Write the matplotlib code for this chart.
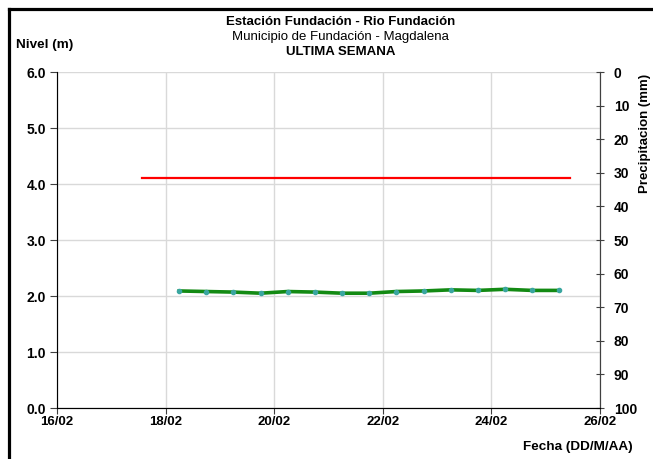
import matplotlib
matplotlib.use('Agg')
import matplotlib.pyplot as plt
import numpy as np
from datetime import datetime, timedelta

plt.rcParams['font.family'] = ['Liberation Sans', 'DejaVu Sans']

# datos - nivel del rio cada 12 horas
t0 = datetime(2024, 2, 18, 6, 0)
fechas = [t0 + timedelta(hours=12 * i) for i in range(15)]
nivel = [2.09, 2.08, 2.07, 2.05, 2.08, 2.07, 2.05, 2.05, 2.08, 2.09,
         2.11, 2.10, 2.12, 2.10, 2.10]

# umbral (linea roja)
umbral_fechas = [datetime(2024, 2, 17, 13, 30), datetime(2024, 2, 25, 10, 50)]
umbral_nivel = [4.1, 4.1]

x_ticks = [datetime(2024, 2, d) for d in range(16, 27, 2)]
x_labels = ['16/02', '18/02', '20/02', '22/02', '24/02', '26/02']

fig = plt.figure(figsize=(6.53, 4.59), dpi=100)
ax = fig.add_axes([0.0873, 0.1111, 0.8315, 0.7320])

ax.plot(umbral_fechas, umbral_nivel, color='#ff0000', lw=1.6, zorder=3)
ax.plot(fechas, nivel, color='#138a13', lw=2.6, zorder=4)
ax.plot(fechas, nivel, ls='none', marker='o', ms=3, color='#3aa6a0', zorder=5)

ax.set_xlim(datetime(2024, 2, 16), datetime(2024, 2, 26))
ax.set_ylim(0, 6)
ax.set_xticks(x_ticks)
ax.set_xticklabels(x_labels)
ax.set_yticks(np.arange(0, 6.1, 1.0))
ax.set_yticklabels(['%.1f' % v for v in np.arange(0, 6.1, 1.0)])
ax.grid(True, color='#d9d9d9', lw=1.0)
ax.set_axisbelow(True)
ax.spines['top'].set_visible(False)
ax.spines['left'].set_color('#7f7f7f')
ax.spines['bottom'].set_color('#404040')
ax.spines['right'].set_color('#404040')
ax.tick_params(axis='x', direction='out', length=4, color='#404040',
               labelsize=9.5, pad=2)
ax.tick_params(axis='y', direction='out', length=5, color='#404040',
               labelsize=10, pad=3)
for lbl in ax.get_xticklabels() + ax.get_yticklabels():
    lbl.set_fontweight('bold')

# eje derecho precipitacion
ax2 = ax.twinx()
ax2.set_ylim(100, 0)
ax2.set_yticks(range(0, 101, 10))
ax2.spines['top'].set_visible(False)
ax2.spines['right'].set_color('#404040')
ax2.tick_params(axis='y', direction='inout', length=6, color='#404040',
                labelsize=10, pad=7)
for lbl in ax2.get_yticklabels():
    lbl.set_fontweight('bold')

fig.text(0.522, 0.953, 'Estación Fundación - Rio Fundación', ha='center',
         va='center', fontsize=9.5, fontweight='bold')
fig.text(0.522, 0.920, 'Municipio de Fundación - Magdalena', ha='center',
         va='center', fontsize=9.5)
fig.text(0.522, 0.887, 'ULTIMA SEMANA', ha='center', va='center',
         fontsize=9.5, fontweight='bold')
fig.text(0.024, 0.902, 'Nivel (m)', ha='left', va='center', fontsize=9.7,
         fontweight='bold')
fig.text(0.988, 0.838, 'Precipitacion (mm)', ha='center', va='top',
         rotation=90, fontsize=9.5, fontweight='bold')
fig.text(0.969, 0.026, 'Fecha (DD/M/AA)', ha='right', va='center',
         fontsize=9.7, fontweight='bold')

# marco del recorte
fig.add_artist(plt.Line2D([0.0145, 0.0145], [0, 0.980], color='black', lw=2.3))
fig.add_artist(plt.Line2D([0.0145, 1.0], [0.980, 0.980], color='black', lw=2.3))

fig.savefig('out.png', dpi=100)
